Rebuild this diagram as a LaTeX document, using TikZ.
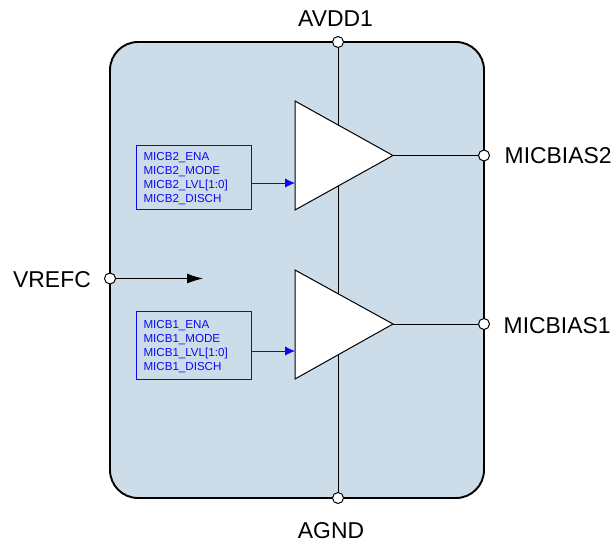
\documentclass[tikz,border=0pt]{standalone}
\usepackage{fontspec}
\usepackage{xcolor}
\usetikzlibrary{arrows.meta}
\setmainfont{Liberation Sans}
\definecolor{blockfill}{HTML}{CCDDE9}
\definecolor{ctrlblue}{HTML}{0A0AF5}
\newcommand{\ctrlstrut}{\rule{0pt}{10.6pt}}
\tikzset{
    block/.style = {draw=black, fill=blockfill, line width=1.9pt, rounded corners=28pt},
    amp/.style = {draw=black, fill=white, line width=1pt, line join=miter},
    wire/.style = {draw=black, line width=1pt},
    terminal/.style = {draw=black, fill=white, circle, line width=1pt, inner sep=0pt, minimum size=11pt},
    pin-label/.style = {inner sep=0pt, font=\fontsize{22.9}{26}\selectfont},
    ctrl-box/.style = {draw=ctrlblue, line width=0.9pt, inner xsep=7pt, inner ysep=0pt, text width=100.5pt, align=left, text=ctrlblue, font=\fontsize{11.6}{14}\selectfont},
    ctrl-arrow/.style = {draw=ctrlblue, line width=1pt, -{Latex[length=10pt,width=9.5pt]}},
}

\begin{document}
\begin{tikzpicture}[x=1pt, y=-1pt]
\useasboundingbox (0,0) rectangle (615,544);
\draw[block] (110,42) rectangle (484,498);

% terminals on the block edge
\node[terminal] (avdd) at (338,42) {};
\node[terminal] (agnd) at (338,498) {};
\node[terminal] (vrefc) at (110,278.5) {};
\node[terminal] (micbias2) at (484,155.5) {};
\node[terminal] (micbias1) at (484,324) {};
\coordinate (vrefc-end) at (203,278.5);
\draw[wire] (avdd) -- (agnd);
\draw[wire, -{Latex[length=16pt,width=10pt]}] (vrefc) -- (vrefc-end);

% amplifiers
\coordinate (amp2-in) at (295,183);
\coordinate (amp2-out) at (393,155.5);
\coordinate (amp1-in) at (295,351);
\coordinate (amp1-out) at (393,324);
\draw[amp] (295,101) -- (amp2-out) -- (295,210) -- cycle;
\draw[amp] (295,270) -- (amp1-out) -- (295,379) -- cycle;
\draw[wire] (amp2-out) -- (micbias2);
\draw[wire] (amp1-out) -- (micbias1);

% control registers
\node[ctrl-box, minimum height=64pt] (micb2) at (193.75,177) {\ctrlstrut MICB2\_ENA\\MICB2\_MODE\\MICB2\_LVL[1:0]\\MICB2\_DISCH};
\node[ctrl-box, minimum height=68pt] (micb1) at (193.75,345) {\ctrlstrut MICB1\_ENA\\MICB1\_MODE\\MICB1\_LVL[1:0]\\MICB1\_DISCH};
\draw[ctrl-arrow] (micb2.east |- amp2-in) -- (amp2-in);
\draw[ctrl-arrow] (micb1.east |- amp1-in) -- (amp1-in);

% pin names
\node[pin-label] (avdd-label) at (335.5,19) {AVDD1};
\node[pin-label] (agnd-label) at (331,531) {AGND};
\node[pin-label, anchor=east] (vrefc-label) at (91,280) {VREFC};
\node[pin-label, anchor=west] (micbias2-label) at (504.5,156) {MICBIAS2};
\node[pin-label, anchor=west] (micbias1-label) at (503.5,326) {MICBIAS1};
\end{tikzpicture}
\end{document}
